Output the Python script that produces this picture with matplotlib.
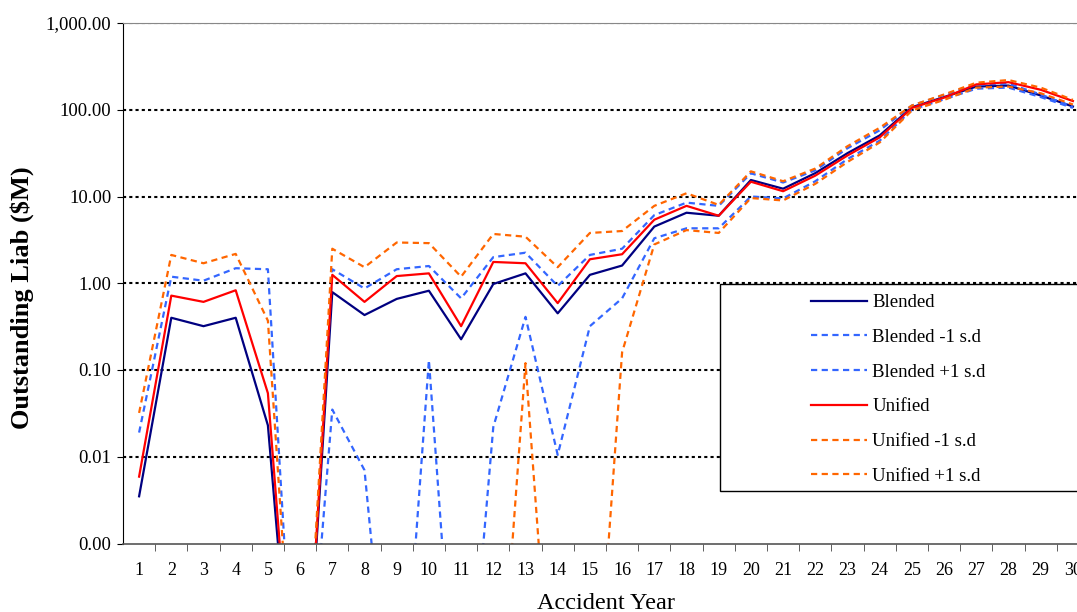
import numpy as np
import matplotlib
matplotlib.use("Agg")
import matplotlib.pyplot as plt
from matplotlib.patches import Rectangle
from matplotlib.ticker import FixedLocator, FuncFormatter

# values ($M); 0 = nothing plotted (below the log axis)
years = list(range(1, 31))

blended = [0.0035, 0.40, 0.32, 0.40, 0.023, 0, 0.79, 0.43, 0.66, 0.82,
           0.226, 0.98, 1.30, 0.45, 1.25, 1.6, 4.5, 6.5, 6.0, 15.5,
           12.3, 18.6, 31.6, 50.6, 107, 140, 185, 190, 146, 109]
blended_lo = [0, 0, 0, 0, 0, 0, 0.035, 0.007, 0, 0.13,
              0, 0.022, 0.41, 0.0105, 0.32, 0.67, 3.3, 4.3, 4.3, 10,
              9.5, 15, 27, 44, 100, 132, 175, 180, 140, 105]
blended_hi = [0.019, 1.19, 1.07, 1.49, 1.45, 0, 1.45, 0.87, 1.45, 1.58,
              0.67, 2.0, 2.25, 0.93, 2.12, 2.5, 6.1, 8.5, 7.8, 18.5,
              14.5, 20, 36, 58, 112, 148, 195, 200, 150, 108]
unified = [0.0059, 0.72, 0.61, 0.83, 0.054, 0, 1.25, 0.61, 1.21, 1.30,
           0.32, 1.76, 1.70, 0.59, 1.89, 2.16, 5.4, 7.8, 6.0, 14.8,
           11.5, 17.4, 29.7, 48, 105, 138, 196, 208, 170, 126]
unified_lo = [0, 0, 0, 0, 0, 0, 0, 0, 0, 0,
              0, 0, 0.12, 0, 0, 0.16, 2.8, 4.1, 3.8, 9.6,
              9, 14, 25, 42, 98, 130, 180, 185, 155, 115]
unified_hi = [0.032, 2.12, 1.70, 2.18, 0.37, 0, 2.5, 1.53, 2.95, 2.9,
              1.19, 3.7, 3.44, 1.53, 3.8, 4.0, 7.8, 10.9, 8.0, 19.5,
              15, 21, 38, 62, 112, 150, 205, 220, 180, 130]

dash = (0, (2.8, 2.0))
series = [
    ("Blended", blended, "#000080", "-"),
    ("Blended -1 s.d", blended_lo, "#3366FF", dash),
    ("Blended +1 s.d", blended_hi, "#3366FF", dash),
    ("Unified", unified, "#FF0000", "-"),
    ("Unified -1 s.d", unified_lo, "#FF6600", dash),
    ("Unified +1 s.d", unified_hi, "#FF6600", dash),
]

plt.rcParams["font.family"] = ["Liberation Serif", "DejaVu Serif"]

W, H = 1077, 612
fig = plt.figure(figsize=(W / 100, H / 100), dpi=100)
ax = fig.add_axes([123 / W, 68.5 / H, 966 / W, 520.5 / H])

for name, vals, col, ls in series:
    v = np.asarray(vals, dtype=float)
    v = np.where(v > 0, v, 1e-6)   # zeros drop off the bottom of the log axis
    ax.plot(years, v, color=col, linestyle=ls, lw=1.6, label=name)

ax.set_yscale("log")
ax.set_ylim(0.001, 1000)
ax.set_xlim(0.5, 30.5)

decades = [0.001, 0.01, 0.1, 1, 10, 100, 1000]
ax.yaxis.set_major_locator(FixedLocator(decades))
ax.yaxis.set_minor_locator(FixedLocator([]))
ax.yaxis.set_major_formatter(FuncFormatter(lambda v, p: f"{v:,.2f}"))
for d in decades[1:]:
    ax.axhline(d, color="black", lw=1.5, linestyle=(0, (1.5, 1.5)), zorder=0.5)

ax.set_xticks(years)
ax.set_xticklabels([str(y) for y in years])
ax.xaxis.set_minor_locator(FixedLocator(np.arange(1.5, 30.5, 1.0)))
ax.tick_params(axis="x", which="major", length=0, pad=13, labelsize=13)
ax.tick_params(axis="x", which="minor", length=5, direction="out", color="#444444")
ax.tick_params(axis="y", which="major", length=4.5, direction="out", pad=4, labelsize=13.5)

ax.spines["right"].set_visible(False)
ax.spines["top"].set_color("#888888")
ax.spines["left"].set_color("black")
ax.spines["bottom"].set_color("#555555")
ax.spines["bottom"].set_linewidth(1.2)

fig.text(605.5 / W, 1 - 609 / H, "Accident Year", ha="center", va="baseline",
         fontsize=17.5)
fig.text(22.5 / W, 1 - 297.5 / H, "Outstanding Liab ($M)", rotation=90,
         ha="center", va="center", fontsize=19, fontweight="bold")

# legend frame (runs off the right edge like the original)
ax.add_patch(Rectangle((720 / W, 1 - 491 / H), 400 / W, 207 / H,
                       transform=fig.transFigure, clip_on=False,
                       facecolor="white", edgecolor="black", lw=1.0,
                       zorder=4))
leg = ax.legend(loc="upper left",
                bbox_to_anchor=(811 / W, 1 - 294 / H),
                bbox_transform=fig.transFigure, borderaxespad=0, borderpad=0,
                fontsize=13.5, handlelength=3.0, handletextpad=0.27,
                labelspacing=0.94, frameon=False)
leg.set_zorder(6)

fig.savefig("out.png", dpi=100)
